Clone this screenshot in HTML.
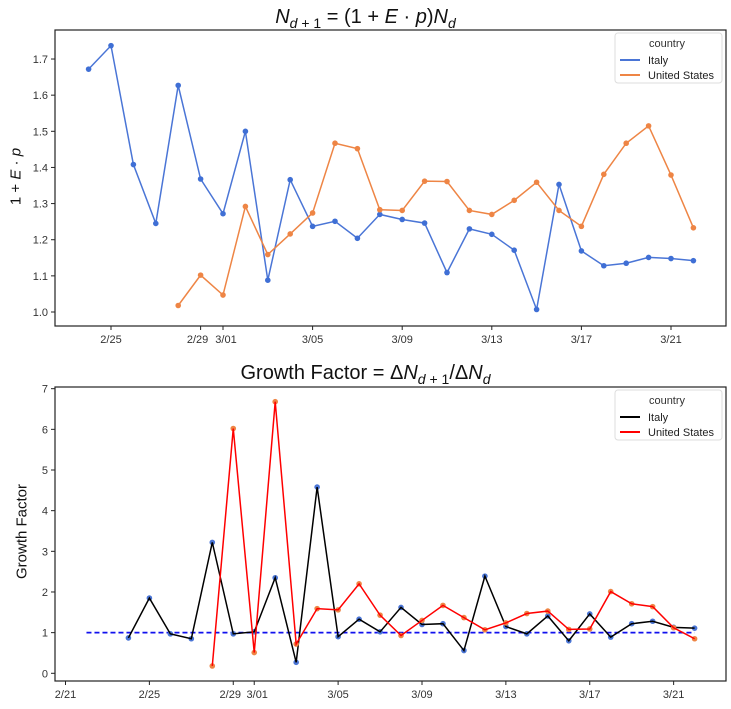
<!DOCTYPE html>
<html><head><meta charset="utf-8"><style>
body{margin:0;background:#fff;}
svg{display:block;font-family:"Liberation Sans",sans-serif;}
</style></head><body>
<svg id="c" width="731" height="709"></svg>
<script>
const topItaly=[1.672,1.737,1.408,1.245,1.627,1.368,1.272,1.5,1.088,1.366,1.237,1.251,1.204,1.27,1.256,1.246,1.109,1.23,1.215,1.171,1.007,1.353,1.169,1.128,1.135,1.151,1.148,1.142];
const topUS=[1.018,1.102,1.047,1.292,1.159,1.216,1.274,1.467,1.452,1.283,1.281,1.362,1.361,1.281,1.27,1.309,1.359,1.281,1.237,1.381,1.467,1.515,1.379,1.233];
const botItaly=[0.87,1.85,0.97,0.85,3.22,0.97,1.02,2.35,0.27,4.58,0.9,1.33,1.02,1.62,1.2,1.22,0.56,2.39,1.15,0.97,1.41,0.8,1.46,0.89,1.22,1.28,1.13,1.11];
const botUS=[0.18,6.02,0.51,6.68,0.72,1.59,1.56,2.2,1.43,0.93,1.3,1.67,1.37,1.07,1.24,1.47,1.53,1.08,1.09,2.01,1.71,1.64,1.12,0.85];
const topYTicks=[1.0,1.1,1.2,1.3,1.4,1.5,1.6,1.7];
const botYTicks=[0,1,2,3,4,5,6,7];
const topXTicks=[["2/25",4],["2/29",8],["3/01",9],["3/05",13],["3/09",17],["3/13",21],["3/17",25],["3/21",29]];
const botXTicks=[["2/21",0],["2/25",4],["2/29",8],["3/01",9],["3/05",13],["3/09",17],["3/13",21],["3/17",25],["3/21",29]];
// day index: 0 = 2/21; Italy first = 2/24 (3), US first = 2/28 (7)
const itFirst=3, usFirst=7;
const NS="http://www.w3.org/2000/svg";
const svg=document.getElementById('c');
function el(t,a,p){const e=document.createElementNS(NS,t);for(const k in a)e.setAttribute(k,a[k]);(p||svg).appendChild(e);return e;}
function panel(o){
  const g=el('g',{});
  
  
  const L=55,R=726,T=o.T,B=o.B;
  const x=d=>o.x0+(d-o.d0)*o.dx;
  const y=v=>o.y0-(v-o.v0)*o.vy;
  el('rect',{x:L,y:T,width:R-L,height:B-T,fill:'#fff',stroke:'#222','stroke-width':1.2},g);
  o.yt.forEach(v=>{el('line',{x1:L-4,x2:L,y1:y(v),y2:y(v),stroke:'#222'},g);
    const tx=el('text',{x:L-7,y:y(v)+4,'text-anchor':'end','font-size':11,fill:'#333'},g);tx.textContent=o.fmt(v);
    });
  o.xt.forEach(([lab,d])=>{el('line',{x1:x(d),x2:x(d),y1:B,y2:B+4,stroke:'#222'},g);
    const tx=el('text',{x:x(d)+(lab=="2/29"?-3:lab=="3/01"?3:0),y:B+17,'text-anchor':'middle','font-size':11,fill:'#333'},g);tx.textContent=lab;
    });
  if(o.ref){const l=el('line',{x1:x(1),x2:x(30),y1:y(1),y2:y(1),stroke:'#1010ee','stroke-width':1.8,'stroke-dasharray':'5,3'},g);
    }
  o.series.forEach(s=>{
    const pts=s.vals.map((v,i)=>[x(s.first+i),y(v)]);
    if(!o.dotsUnder){const p=el('polyline',{points:pts.map(p=>p.join(',')).join(' '),fill:'none',stroke:s.line,'stroke-width':1.5},g);
      }
    pts.forEach(p=>{const c=el('circle',{cx:p[0],cy:p[1],r:2.8,fill:s.dot},g);
      });
    if(o.dotsUnder){const p=el('polyline',{points:pts.map(p=>p.join(',')).join(' '),fill:'none',stroke:s.line,'stroke-width':1.5},g);
      }
  });
  const lg=el('g',{},g);
  el('rect',{x:615,y:T+3,width:107,height:50,rx:3,fill:'#fff',stroke:'#ddd'},lg);
  const t0=el('text',{x:667,y:T+17,'text-anchor':'middle','font-size':11,fill:'#333'},lg);t0.textContent='country';
  o.series.forEach((s,i)=>{const yy=T+30+i*15;
    el('line',{x1:620,x2:640,y1:yy,y2:yy,stroke:s.line,'stroke-width':2},lg);
    const t=el('text',{x:648,y:yy+4,'font-size':11,fill:'#222'},lg);t.textContent=s.label;
    });
}
panel({name:'top-panel',T:30,B:326,x0:111,d0:4,dx:22.4,y0:312,v0:1.0,vy:361.4,yt:topYTicks,xt:topXTicks,fmt:v=>v.toFixed(1),
  series:[{key:'italy',label:'Italy',vals:topItaly,first:itFirst,line:'#4a75d6',dot:'#3f6fd5'},
          {key:'us',label:'United States',vals:topUS,first:usFirst,line:'#ee8545',dot:'#ee8545'}]});
panel({name:'bottom-panel',T:387,B:681,x0:65.5,d0:0,dx:20.97,y0:673.3,v0:0,vy:40.66,yt:botYTicks,xt:botXTicks,fmt:v=>String(v),ref:true,dotsUnder:true,
  series:[{key:'italy',label:'Italy',vals:botItaly,first:itFirst,line:'#000',dot:'#4a75d6'},
          {key:'us',label:'United States',vals:botUS,first:usFirst,line:'#ff0000',dot:'#ee8545'}]});
</script>
<div style="position:absolute;left:0;top:0;width:731px;height:709px;pointer-events:none;font-family:'Liberation Sans',sans-serif;">
  <div style="position:absolute;left:0;width:731px;top:6px;text-align:center;font-size:20px;color:#111;"><i>N</i><sub style="font-size:14px"><i>d</i> + 1</sub> = (1 + <i>E</i> · <i>p</i>)<i>N</i><sub style="font-size:14px"><i>d</i></sub></div>
  <div style="position:absolute;left:0;width:731px;top:362px;text-align:center;font-size:20px;color:#111;">Growth Factor = Δ<i>N</i><sub style="font-size:14px"><i>d</i> + 1</sub>/Δ<i>N</i><sub style="font-size:14px"><i>d</i></sub></div>
  <div style="position:absolute;left:-34px;top:168px;width:100px;text-align:center;transform:rotate(-90deg);font-size:15px;color:#111;">1 + <i>E</i> · <i>p</i></div>
  <div style="position:absolute;left:-38px;top:523px;width:120px;text-align:center;transform:rotate(-90deg);font-size:15px;color:#111;">Growth Factor</div>
</div>
</body></html>
